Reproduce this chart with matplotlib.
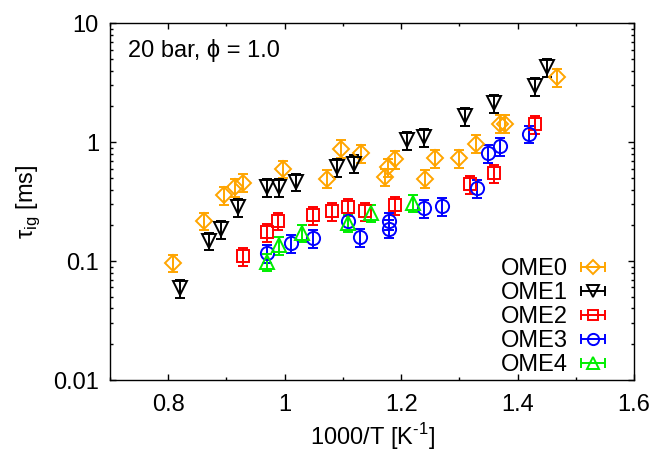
import numpy as np
import matplotlib
matplotlib.use('Agg')
from matplotlib import pyplot as plt
from matplotlib import ticker

plt.rcParams['font.family'] = ['Liberation Sans', 'DejaVu Sans']
plt.rcParams['mathtext.fontset'] = 'custom'
plt.rcParams['mathtext.rm'] = 'Liberation Sans'

# 1000/T [1/K] and ignition delay [ms]
ome0_x = [0.808, 0.862, 0.895, 0.915, 0.929, 0.997, 1.073, 1.096, 1.131, 1.173,
          1.178, 1.190, 1.241, 1.258, 1.299, 1.329, 1.370, 1.379, 1.468]
ome0_y = [0.097, 0.218, 0.359, 0.416, 0.458, 0.598, 0.495, 0.885, 0.804, 0.511,
          0.620, 0.720, 0.495, 0.730, 0.730, 0.975, 1.435, 1.435, 3.54]

ome1_x = [0.820, 0.870, 0.890, 0.919, 0.969, 0.990, 1.020, 1.090, 1.119, 1.210,
          1.240, 1.310, 1.360, 1.430, 1.450]
ome1_y = [0.059, 0.148, 0.186, 0.283, 0.421, 0.421, 0.464, 0.619, 0.662, 1.04,
          1.108, 1.65, 2.14, 2.95, 4.29]

ome2_x = [0.929, 0.969, 0.989, 1.049, 1.081, 1.109, 1.138, 1.190, 1.319, 1.360, 1.430]
ome2_y = [0.110, 0.176, 0.218, 0.244, 0.263, 0.286, 0.263, 0.296, 0.444, 0.552, 1.42]

ome3_x = [0.969, 1.011, 1.049, 1.109, 1.130, 1.180, 1.180, 1.240, 1.270, 1.330,
          1.350, 1.370, 1.420]
ome3_y = [0.116, 0.141, 0.155, 0.218, 0.158, 0.218, 0.188, 0.277, 0.290, 0.408,
          0.804, 0.925, 1.18]

ome4_x = [0.969, 0.990, 1.029, 1.109, 1.148, 1.220]
ome4_y = [0.099, 0.136, 0.173, 0.210, 0.255, 0.309]

rel_err = 0.17

series = [
    ('OME0', ome0_x, ome0_y, 'D', '#ffa500', 8),
    ('OME1', ome1_x, ome1_y, 'v', 'black', 9.5),
    ('OME2', ome2_x, ome2_y, 's', '#ff0000', 9),
    ('OME3', ome3_x, ome3_y, 'o', '#0000ff', 9.5),
    ('OME4', ome4_x, ome4_y, '^', '#00ee00', 9.5),
]

fig = plt.figure(figsize=(6.56, 4.55), dpi=100)
ax = fig.add_axes([0.1677, 0.1648, 0.7988, 0.7840])

handles = []
for name, xs, ys, mk, col, ms in series:
    ys = np.array(ys)
    ax.errorbar(xs, ys, yerr=rel_err * ys, fmt=mk, color=col, mfc='none',
                mec=col, ms=ms, mew=1.4, elinewidth=1.4, capsize=3.5,
                capthick=1.4, zorder=3)
    # proxy with a horizontal bar, like the key
    h = ax.errorbar([np.nan], [np.nan], xerr=[1], fmt=mk, color=col, mfc='none',
                    mec=col, ms=ms * 0.85, mew=1.4, elinewidth=1.4, capsize=3.5,
                    capthick=1.4, label=name)
    handles.append(h)

ax.set_yscale('log')
ax.set_xlim(0.7, 1.6)
ax.set_ylim(0.01, 10)
ax.xaxis.set_major_locator(ticker.MultipleLocator(0.2))
ax.xaxis.set_minor_locator(ticker.MultipleLocator(0.1))
ax.xaxis.set_major_formatter(ticker.FuncFormatter(lambda v, p: '%g' % round(v, 3)))
ax.yaxis.set_major_locator(ticker.FixedLocator([0.01, 0.1, 1, 10]))
ax.yaxis.set_minor_locator(ticker.LogLocator(base=10, subs=np.arange(2, 10)))
ax.yaxis.set_major_formatter(ticker.FuncFormatter(lambda v, p: '%g' % v))
ax.yaxis.set_minor_formatter(ticker.NullFormatter())
ax.tick_params(which='both', direction='in', top=True, right=True,
               labelsize=17, width=1.0)
ax.tick_params(which='major', length=4.5)
ax.tick_params(which='minor', length=2.2)
ax.tick_params(axis='x', pad=10)
ax.tick_params(axis='y', pad=8)
for s in ax.spines.values():
    s.set_linewidth(1.0)

ax.set_xlabel(r'1000/T [K$^{\mathregular{\text{-}1}}$]', fontsize=17, labelpad=4)
ax.set_ylabel(r'τ$_{\mathregular{ig}}$ [ms]', fontsize=17, labelpad=8)

ax.text(0.034, 0.925, '20 bar, ϕ = 1.0', transform=ax.transAxes,
        fontsize=17, va='center', ha='left')

ax.legend(handles=handles, loc='lower right', bbox_to_anchor=(0.975, -0.035),
          frameon=False, markerfirst=False, fontsize=17, handlelength=0.95,
          handletextpad=0.6, labelspacing=0.08, borderaxespad=0.3)

fig.savefig('out.png', dpi=100)
